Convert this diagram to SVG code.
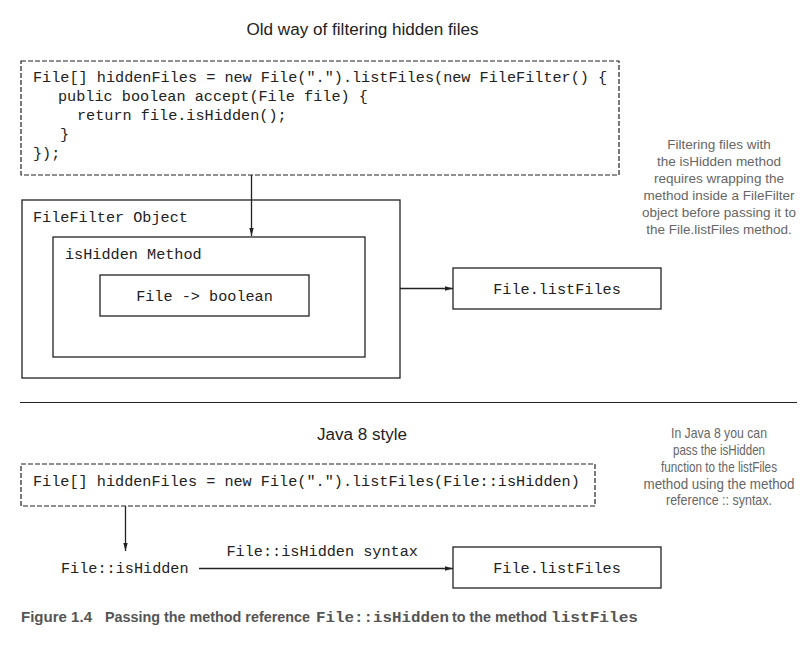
<svg xmlns="http://www.w3.org/2000/svg" width="812" height="648" viewBox="0 0 812 648">
<defs>
<style>
.code{font-family:"Liberation Mono","Courier New",monospace;font-size:15.2px;fill:#222}
.box{fill:#fff;stroke:#222;stroke-width:1.3}
.dash{fill:#fff;stroke:#222;stroke-width:1.2;stroke-dasharray:5,2}
.line{fill:none;stroke:#222;stroke-width:1.3}
.title{font-family:"Liberation Sans",Arial,sans-serif;font-size:16px;fill:#222}
.note{font-family:"Liberation Sans",Arial,sans-serif;font-size:13.5px;fill:#666;text-anchor:middle}
.note2{font-family:"Liberation Sans",Arial,sans-serif;font-size:14.5px;fill:#666;text-anchor:middle}
.cap{font-family:"Liberation Sans",Arial,sans-serif;font-size:14.5px;font-weight:bold;fill:#555}
.capm{font-family:"Liberation Mono","Courier New",monospace;font-size:15px;font-weight:bold;fill:#555}
</style>
<marker id="arr" viewBox="0 0 8 6" refX="8" refY="3" markerWidth="8" markerHeight="6" markerUnits="userSpaceOnUse" orient="auto">
<path d="M0,0.8 L8,3 L0,5.2 Z" fill="#222"/>
</marker>
</defs>
<rect width="812" height="648" fill="#fff"/>

<text class="title" x="246.5" y="35" textLength="232" lengthAdjust="spacingAndGlyphs">Old way of filtering hidden files</text>

<g id="old-code">
<rect class="dash" x="21" y="61" width="598" height="114"/>
<text class="code" x="33" y="82" xml:space="preserve">File[] hiddenFiles = new File(".").listFiles(new FileFilter() {</text>
<text class="code" x="58" y="101">public boolean accept(File file) {</text>
<text class="code" x="77" y="120">return file.isHidden();</text>
<text class="code" x="60" y="139">}</text>
<text class="code" x="33" y="158">});</text>
</g>

<g id="filefilter-object">
<rect class="box" x="22" y="200" width="378" height="178"/>
<text class="code" x="33" y="222">FileFilter Object</text>
</g>

<g id="ishidden-method">
<rect class="box" x="53" y="237" width="312" height="120"/>
<text class="code" x="65" y="259">isHidden Method</text>
</g>

<g id="file-boolean">
<rect class="box" x="100" y="275" width="209" height="41"/>
<text class="code" x="204.5" y="301" text-anchor="middle">File -&gt; boolean</text>
</g>

<g id="listfiles-old">
<rect class="box" x="453" y="268" width="208" height="41"/>
<text class="code" x="557" y="294" text-anchor="middle">File.listFiles</text>
</g>

<g id="note-old">
<text class="note" x="719" y="149">Filtering files with</text>
<text class="note" x="719" y="166">the isHidden method</text>
<text class="note" x="719" y="183">requires wrapping the</text>
<text class="note" x="719" y="200">method inside a FileFilter</text>
<text class="note" x="719" y="217">object before passing it to</text>
<text class="note" x="719" y="234">the File.listFiles method.</text>
</g>

<line x1="20" y1="402.5" x2="797" y2="402.5" stroke="#222" stroke-width="1.2"/>

<text class="title" x="317" y="440" textLength="90" lengthAdjust="spacingAndGlyphs">Java 8 style</text>

<g id="new-code">
<rect class="dash" x="21" y="464" width="574" height="42"/>
<text class="code" x="33" y="486" xml:space="preserve">File[] hiddenFiles = new File(".").listFiles(File::isHidden)</text>
</g>

<g id="ishidden-ref">
<text class="code" x="61" y="573">File::isHidden</text>
</g>

<g id="listfiles-new">
<rect class="box" x="453" y="547" width="208" height="41"/>
<text class="code" x="557" y="573" text-anchor="middle">File.listFiles</text>
</g>

<g id="note-new">
<text class="note2" x="719" y="438" textLength="96" lengthAdjust="spacingAndGlyphs">In Java 8 you can</text>
<text class="note2" x="719" y="455" textLength="92" lengthAdjust="spacingAndGlyphs">pass the isHidden</text>
<text class="note2" x="719" y="472" textLength="116" lengthAdjust="spacingAndGlyphs">function to the listFiles</text>
<text class="note2" x="719" y="489" textLength="151" lengthAdjust="spacingAndGlyphs">method using the method</text>
<text class="note2" x="719" y="505" textLength="106" lengthAdjust="spacingAndGlyphs">reference :: syntax.</text>
</g>

<g id="connectors">
<line class="line" x1="251.5" y1="175" x2="251.5" y2="236" marker-end="url(#arr)"/>
<line class="line" x1="400" y1="288.5" x2="453" y2="288.5" marker-end="url(#arr)"/>
<line class="line" x1="125.5" y1="506" x2="125.5" y2="551" marker-end="url(#arr)"/>
<line class="line" x1="199" y1="568.5" x2="453" y2="568.5" marker-end="url(#arr)"/>
<text class="code" x="226.5" y="556">File::isHidden syntax</text>
</g>

<g id="caption">
<text class="cap" x="21" y="622" textLength="71" lengthAdjust="spacingAndGlyphs">Figure 1.4</text>
<text class="cap" x="105" y="622" textLength="205" lengthAdjust="spacingAndGlyphs">Passing the method reference</text>
<text class="capm" x="316" y="622" textLength="133" lengthAdjust="spacingAndGlyphs">File::isHidden</text>
<text class="cap" x="452" y="622" textLength="95" lengthAdjust="spacingAndGlyphs">to the method</text>
<text class="capm" x="551" y="622" textLength="87" lengthAdjust="spacingAndGlyphs">listFiles</text>
</g>
</svg>
